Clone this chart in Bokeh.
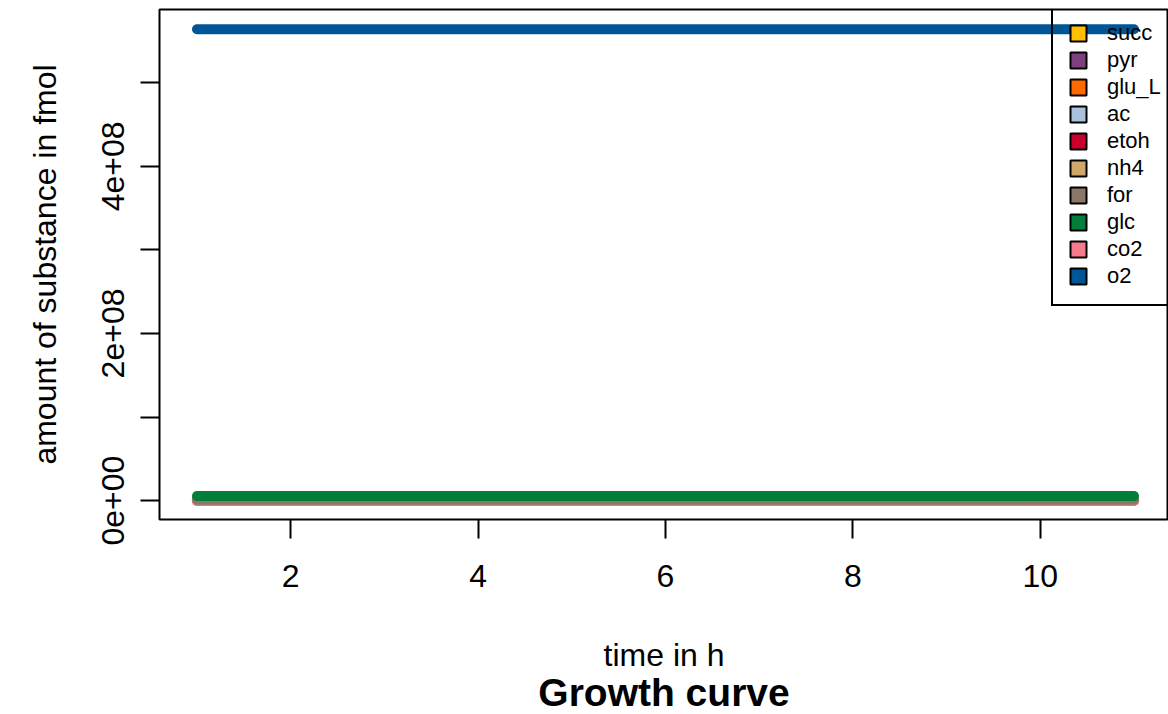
from bokeh.plotting import figure
from bokeh.models import (FixedTicker, Legend, LegendItem, Title, ColumnDataSource)
from bokeh.embed import file_html
from bokeh.resources import INLINE

# time points (h)
time_h = [1, 2, 3, 4, 5, 6, 7, 8, 9, 10, 11]

# amount of substance per metabolite (fmol)
succ = [0, 0, 0, 0, 0, 0, 0, 0, 0, 0, 0]
pyr = [0, 0, 0, 0, 0, 0, 0, 0, 0, 0, 0]
glu_L = [0, 0, 0, 0, 0, 0, 0, 0, 0, 0, 0]
ac = [0, 0, 0, 0, 0, 0, 0, 0, 0, 0, 0]
etoh = [0, 0, 0, 0, 0, 0, 0, 0, 0, 0, 0]
nh4 = [0, 0, 0, 0, 0, 0, 0, 0, 0, 0, 0]
form = [1.0e6, 1.0e6, 1.0e6, 1.0e6, 1.0e6, 1.0e6, 1.0e6, 1.0e6, 1.0e6, 1.0e6, 1.0e6]
glc = [5.4e6, 5.4e6, 5.4e6, 5.4e6, 5.4e6, 5.4e6, 5.4e6, 5.4e6, 5.4e6, 5.4e6, 5.4e6]
co2 = [0, 0, 0, 0, 0, 0, 0, 0, 0, 0, 0]
o2 = [5.64e8, 5.64e8, 5.64e8, 5.64e8, 5.64e8, 5.64e8, 5.64e8, 5.64e8, 5.64e8, 5.64e8, 5.64e8]

legend_names = ["succ", "pyr", "glu_L", "ac", "etoh", "nh4", "for", "glc", "co2", "o2"]
legend_colors = ["#FFBF00", "#7E3F7E", "#FF6A00", "#A9C1DD", "#C8002B",
                 "#D1A66A", "#8A7767", "#007E3A", "#F47A8C", "#005596"]
series = {"succ": succ, "pyr": pyr, "glu_L": glu_L, "ac": ac, "etoh": etoh,
          "nh4": nh4, "for": form, "glc": glc, "co2": co2, "o2": o2}
draw_order = ["succ", "pyr", "glu_L", "ac", "etoh", "nh4", "co2", "for", "glc", "o2"]

x_ticks = [2, 4, 6, 8, 10]
y_ticks = [0, 100000000, 200000000, 300000000, 400000000, 500000000]
y_tick_labels = ["0e+00", "", "2e+08", "", "4e+08", ""]

FONT = "Liberation Sans"
nan = float("nan")

p = figure(frame_width=1009, frame_height=510,
           x_range=(0.6, 11.368), y_range=(-2.26e7, 5.876e8),
           output_backend="svg", toolbar_location=None,
           min_border_left=159, min_border_right=0, min_border_top=9,
           min_border_bottom=195)
p.grid.visible = False
p.background_fill_color = "white"
p.border_fill_color = "white"
p.outline_line_color = "black"
p.outline_line_alpha = 1.0
p.outline_line_width = 2

color_of = dict(zip(legend_names, legend_colors))
for name in draw_order:
    src = ColumnDataSource(dict(t=time_h, v=series[name]))
    p.line("t", "v", source=src, line_color=color_of[name], line_width=10,
           line_cap="round", line_join="round")

# legend swatches (placeholder quads that only show up in the legend)
items = []
for name, col in zip(legend_names, legend_colors):
    r = p.quad(left=[nan], right=[nan], top=[nan], bottom=[nan], fill_color=col,
               line_color="black", line_width=2)
    items.append(LegendItem(label=name, renderers=[r]))

legend = Legend(items=items, location=(892, 213), margin=0, padding=15,
                spacing=0, glyph_width=20, glyph_height=20, label_standoff=19,
                label_text_font=FONT, label_text_font_size="22px",
                label_text_color="black",
                label_height=27, border_line_color="black", border_line_width=2,
                border_line_alpha=1.0, background_fill_alpha=0.0)
p.add_layout(legend)

xa = p.xaxis[0]
xa.ticker = FixedTicker(ticks=x_ticks)
xa.axis_line_color = None
xa.major_tick_in = 0
xa.major_tick_out = 19
xa.major_tick_line_width = 2
xa.major_tick_line_color = "black"
xa.minor_tick_line_color = None
xa.major_label_text_font = FONT
xa.major_label_text_font_size = "32px"
xa.major_label_text_color = "black"
xa.major_label_standoff = 26
xa.axis_label = "time in h"
xa.axis_label_text_font = FONT
xa.axis_label_text_font_size = "32px"
xa.axis_label_text_font_style = "normal"
xa.axis_label_text_color = "black"
xa.axis_label_standoff = 47

ya = p.yaxis[0]
ya.ticker = FixedTicker(ticks=y_ticks)
ya.major_label_overrides = dict(zip(y_ticks, y_tick_labels))
ya.major_label_orientation = "vertical"
ya.axis_line_color = None
ya.major_tick_in = 0
ya.major_tick_out = 19
ya.major_tick_line_width = 2
ya.major_tick_line_color = "black"
ya.minor_tick_line_color = None
ya.major_label_text_font = FONT
ya.major_label_text_font_size = "32px"
ya.major_label_text_color = "black"
ya.major_label_standoff = 16
ya.axis_label = "amount of substance in fmol"
ya.axis_label_text_font = FONT
ya.axis_label_text_font_size = "32px"
ya.axis_label_text_font_style = "normal"
ya.axis_label_text_color = "black"
ya.axis_label_standoff = 37

p.add_layout(Title(text="Growth curve", align="center", vertical_align="top",
                   text_font=FONT, text_font_size="39px", text_font_style="bold",
                   text_color="black", standoff=-10, offset=0), "below")

open("out.html", "w").write(file_html(p, INLINE))
